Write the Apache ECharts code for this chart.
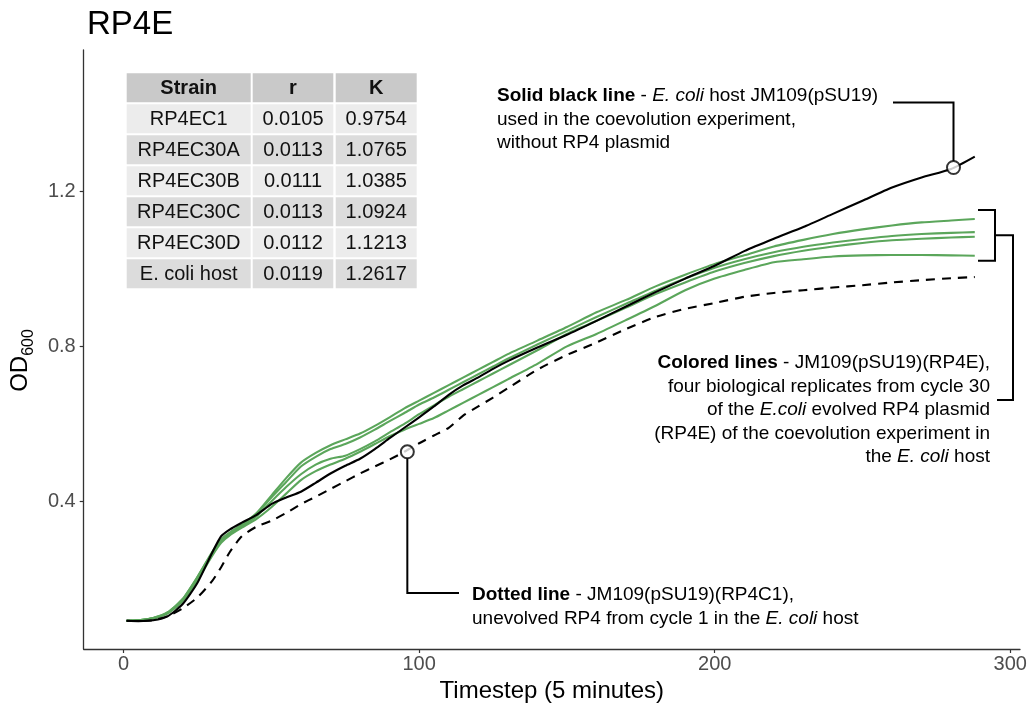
<!DOCTYPE html>
<html><head><meta charset="utf-8">
<script src="https://cdn.jsdelivr.net/npm/echarts@6/dist/echarts.min.js"></script>
<style>html,body{margin:0;padding:0;background:#fff}#c{width:1034px;height:708px}</style>
</head><body><div id="c"></div>
<script>
// ---- data ----
const timesteps = [1,5,10,15,20,25,30,33,36,40,45,50,55,60,65,70,75,80,85,90,95,100,105,110,115,120,125,130,140,150,160,170,180,190,200,210,220,230,240,250,260,270,280,288];
const hostOD  = [0.092,0.091,0.093,0.104,0.135,0.19,0.268,0.31,0.328,0.345,0.365,0.393,0.41,0.425,0.448,0.472,0.492,0.51,0.535,0.563,0.59,0.617,0.645,0.675,0.70,0.72,0.742,0.762,0.797,0.83,0.866,0.903,0.94,0.975,1.008,1.046,1.078,1.108,1.142,1.176,1.21,1.236,1.258,1.29];
const rp4c1OD = [0.092,0.091,0.093,0.104,0.124,0.152,0.195,0.23,0.27,0.31,0.335,0.35,0.37,0.393,0.412,0.432,0.452,0.472,0.49,0.508,0.528,0.55,0.57,0.59,0.622,0.645,0.668,0.692,0.74,0.778,0.81,0.845,0.876,0.897,0.912,0.928,0.938,0.945,0.952,0.958,0.965,0.971,0.976,0.979];
const c30dOD  = [0.092,0.093,0.099,0.114,0.148,0.205,0.27,0.302,0.32,0.34,0.37,0.415,0.46,0.5,0.525,0.545,0.56,0.575,0.595,0.617,0.64,0.66,0.68,0.70,0.72,0.74,0.76,0.78,0.815,0.85,0.888,0.92,0.955,0.985,1.013,1.035,1.058,1.075,1.09,1.102,1.112,1.12,1.125,1.129];
const c30cOD  = [0.092,0.093,0.099,0.114,0.148,0.205,0.268,0.30,0.318,0.338,0.368,0.41,0.45,0.49,0.515,0.535,0.548,0.565,0.585,0.607,0.628,0.65,0.668,0.688,0.708,0.728,0.748,0.768,0.805,0.84,0.876,0.91,0.944,0.975,1.003,1.025,1.043,1.057,1.068,1.077,1.085,1.09,1.093,1.095];
const c30aOD  = [0.092,0.093,0.098,0.112,0.145,0.20,0.265,0.298,0.317,0.335,0.362,0.40,0.437,0.47,0.495,0.51,0.518,0.535,0.555,0.578,0.60,0.625,0.648,0.67,0.69,0.71,0.73,0.75,0.79,0.832,0.866,0.90,0.935,0.965,0.993,1.015,1.033,1.047,1.058,1.067,1.074,1.078,1.081,1.083];
const c30bOD  = [0.092,0.093,0.098,0.111,0.143,0.197,0.26,0.293,0.313,0.332,0.355,0.385,0.42,0.455,0.478,0.495,0.51,0.528,0.548,0.568,0.585,0.60,0.615,0.635,0.655,0.675,0.695,0.715,0.755,0.80,0.832,0.868,0.905,0.945,0.975,0.997,1.017,1.025,1.032,1.035,1.036,1.036,1.035,1.034];
const xTicks = [0,100,200,300];
const yTicks = [0.4,0.8,1.2];
const tableHeader = ['Strain','r','K'];
const tableStrains = ['RP4EC1','RP4EC30A','RP4EC30B','RP4EC30C','RP4EC30D','E. coli host'];
const tableR = ['0.0105','0.0113','0.0111','0.0113','0.0112','0.0119'];
const tableK = ['0.9754','1.0765','1.0385','1.0924','1.1213','1.2617'];
const hostCallout = [280.8, 1.2617];
const dottedCallout = [96, 0.528];

// ---- styling ----
const FONT = '"Liberation Sans", Arial, Helvetica, sans-serif';
const GREEN = '#5BA65B';
const pairs = arr => timesteps.map((t, i) => [t, arr[i]]);

function lineSeries(name, arr, color, dashed, z) {
  return {
    name, type: 'line', data: pairs(arr), showSymbol: false, symbol: 'none',
    smooth: 0.2, z,
    lineStyle: { color, width: 2.1, type: dashed ? [9, 7] : 'solid', cap: 'butt', join: 'round' },
    emphasis: { disabled: true }
  };
}

const option = {
  animation: false,
  backgroundColor: '#ffffff',
  textStyle: { fontFamily: FONT },
  title: { text: 'RP4E', left: 82, top: 3, textStyle: { fontFamily: FONT, fontSize: 33, fontWeight: 'normal', color: '#000' } },
  grid: { left: 83, right: 14, top: 50, bottom: 59, containLabel: false },
  xAxis: {
    type: 'value', min: -13.5, max: 303.3,
    name: 'Timestep (5 minutes)', nameLocation: 'middle', nameGap: 29,
    nameTextStyle: { fontFamily: FONT, fontSize: 24, color: '#000' },
    axisLine: { show: true, onZero: false, lineStyle: { color: '#333', width: 1.3 } },
    axisTick: { show: true, length: 4, lineStyle: { color: '#333', width: 1.2 }, customValues: xTicks },
    axisLabel: { fontFamily: FONT, fontSize: 20, color: '#4d4d4d', margin: 5, customValues: xTicks },
    splitLine: { show: false }
  },
  yAxis: {
    type: 'value', min: 0.019, max: 1.565,
    name: '{a|OD}{b|600}', nameLocation: 'middle', nameGap: 39,
    nameTextStyle: {
      fontFamily: FONT, fontSize: 24, color: '#000', padding: [0, 22, 0, 0],
      rich: {
        a: { fontFamily: FONT, fontSize: 24, color: '#000', lineHeight: 34, verticalAlign: 'middle' },
        b: { fontFamily: FONT, fontSize: 16, color: '#000', verticalAlign: 'bottom' }
      }
    },
    axisLine: { show: true, onZero: false, lineStyle: { color: '#333', width: 1.3 } },
    axisTick: { show: true, length: 4, lineStyle: { color: '#333', width: 1.2 }, customValues: yTicks },
    axisLabel: { fontFamily: FONT, fontSize: 20, color: '#4d4d4d', margin: 8, customValues: yTicks, formatter: v => v.toFixed(1) },
    splitLine: { show: false }
  },
  series: [
    lineSeries('RP4EC30B', c30bOD, GREEN, false, 2),
    lineSeries('RP4EC30A', c30aOD, GREEN, false, 2),
    lineSeries('RP4EC30C', c30cOD, GREEN, false, 2),
    lineSeries('RP4EC30D', c30dOD, GREEN, false, 2),
    lineSeries('RP4EC1', rp4c1OD, '#000', true, 3),
    lineSeries('E. coli host', hostOD, '#000', false, 4),
    {
      name: 'callouts', type: 'scatter', z: 10, symbol: 'circle', symbolSize: 13,
      data: [hostCallout, dottedCallout],
      itemStyle: { color: '#fff', borderColor: '#000', borderWidth: 2 },
      emphasis: { disabled: true }
    }
  ]
};

const chart = echarts.init(document.getElementById('c'));
chart.setOption(option);

// ---- annotations: table, callout texts & connectors ----
const g = [];
const colX = [126.7, 252.7, 335.7];
const colW = [124, 80.6, 81];
const rowY0 = 73.3, rowH = 29, rowPitch = 31;
const rowsAll = [tableHeader].concat(tableStrains.map((s, i) => [s, tableR[i], tableK[i]]));
rowsAll.forEach((row, r) => {
  const fill = r === 0 ? '#c9c9c9' : (r % 2 === 1 ? '#ececec' : '#dcdcdc');
  row.forEach((cell, c) => {
    const y = rowY0 + r * rowPitch;
    g.push({ type: 'rect', z: 20, shape: { x: colX[c], y, width: colW[c], height: rowH }, style: { fill } });
    g.push({ type: 'text', z: 21, style: {
      text: cell, x: colX[c] + colW[c] / 2, y: y + rowH / 2 + 0.5,
      align: 'center', verticalAlign: 'middle', textAlign: 'center', textVerticalAlign: 'middle',
      fontFamily: FONT, fontSize: 20, fontWeight: r === 0 ? 'bold' : 'normal', fill: '#111' } });
  });
});

const rich = {
  b: { fontFamily: FONT, fontSize: 19, fontWeight: 'bold', fill: '#000', color: '#000' },
  i: { fontFamily: FONT, fontSize: 19, fontStyle: 'italic', fill: '#000', color: '#000' }
};
function addText(text, x, y, align) {
  g.push({ type: 'text', z: 20, style: {
    text, x, y, align, textAlign: align, verticalAlign: 'middle', textVerticalAlign: 'middle',
    fontFamily: FONT, fontSize: 19, fill: '#000', rich } });
}
const hostLines = ['{b|Solid black line} - {i|E. coli} host JM109(pSU19)', 'used in the coevolution experiment,', 'without RP4 plasmid'];
hostLines.forEach((t, i) => addText(t, 497, 96 + i * 23.5, 'left'));
const greenLines = ['{b|Colored lines} - JM109(pSU19)(RP4E),', 'four biological replicates from cycle 30', 'of the {i|E.coli} evolved RP4 plasmid', '(RP4E) of the coevolution experiment in', 'the {i|E. coli} host'];
greenLines.forEach((t, i) => addText(t, 990, 363 + i * 23.5, 'right'));
const dotLines = ['{b|Dotted line} - JM109(pSU19)(RP4C1),', 'unevolved RP4 from cycle 1 in the {i|E. coli} host'];
dotLines.forEach((t, i) => addText(t, 472, 595 + i * 23.5, 'left'));

const lineStyle = { stroke: '#000', lineWidth: 2, fill: null };
const p1 = chart.convertToPixel({ gridIndex: 0 }, hostCallout);
const p2 = chart.convertToPixel({ gridIndex: 0 }, dottedCallout);
g.push({ type: 'polyline', z: 5, shape: { points: [[893, 102.5], [p1[0], 102.5], [p1[0], p1[1] - 6.5]] }, style: lineStyle });
g.push({ type: 'polyline', z: 5, shape: { points: [[459, 593], [p2[0], 593], [p2[0], p2[1] + 6.5]] }, style: lineStyle });
// bracket around the green line ends
const topEnd = chart.convertToPixel({ gridIndex: 0 }, [timesteps[timesteps.length - 1], c30dOD[c30dOD.length - 1]]);
const botEnd = chart.convertToPixel({ gridIndex: 0 }, [timesteps[timesteps.length - 1], c30bOD[c30bOD.length - 1]]);
const bTop = topEnd[1] - 9, bBot = botEnd[1] + 5, bMid = (bTop + bBot) / 2;
g.push({ type: 'polyline', z: 5, shape: { points: [[978, bTop], [995, bTop], [995, bBot], [978, bBot]] }, style: lineStyle });
g.push({ type: 'polyline', z: 5, shape: { points: [[995, bMid], [1013, bMid], [1013, 400], [997, 400]] }, style: lineStyle });

chart.setOption({ graphic: { elements: g } });
</script>
</body></html>
